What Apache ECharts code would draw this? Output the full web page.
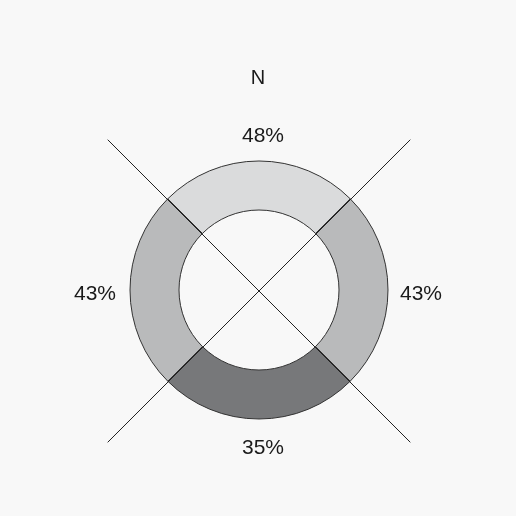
<!DOCTYPE html>
<html lang="en">
<head>
    <meta charset="UTF-8">
    <title>N</title>
    <script src="https://cdn.jsdelivr.net/npm/echarts@6/dist/echarts.min.js"></script>
    <style>
        html, body { margin: 0; padding: 0; background: #f8f8f8; }
        #main { width: 516px; height: 516px; }
    </style>
</head>
<body>
<div id="main"></div>
<script type="text/javascript">
    // 数据
    var directions = ['top', 'right', 'bottom', 'left'];
    var shares = [48, 43, 35, 43];
    var sliceValues = [1, 1, 1, 1];
    var colors = ['#dadbdc', '#b9babb', '#77787a', '#b9babb'];
    var labelOffsets = [[5, 8], [-1, 2], [5, -8], [1, 2]];

    var center = [259, 290];
    var labelCenter = [258, 292];
    var font = 'Liberation Sans, Arial, sans-serif';

    var myChart = echarts.init(document.getElementById('main'));

    var option = {
        backgroundColor: '#f8f8f8',
        animation: false,
        title: {
            text: 'N',
            left: 'center',
            top: 63,
            textStyle: { fontFamily: font, fontWeight: 'normal', fontSize: 20, color: '#1a1a1a' }
        },
        polar: { center: [259, 291], radius: 214 },
        angleAxis: {
            type: 'value', min: 0, max: 360, interval: 90, startAngle: 45,
            axisLine: { show: false }, axisTick: { show: false }, axisLabel: { show: false },
            splitLine: { show: true, lineStyle: { color: '#222', width: 1 } },
            z: 10
        },
        radiusAxis: {
            type: 'value', min: 0, max: 1,
            axisLine: { show: false }, axisTick: { show: false }, axisLabel: { show: false },
            splitLine: { show: false }
        },
        series: [
            {
                type: 'pie',
                center: center,
                radius: [80, 129],
                startAngle: 135,
                clockwise: true,
                silent: true,
                label: { show: false },
                labelLine: { show: false },
                itemStyle: { borderColor: '#333', borderWidth: 1 },
                data: directions.map(function (d, i) {
                    return { name: d, value: sliceValues[i], itemStyle: { color: colors[i] } };
                })
            },
            {
                // 标签环
                type: 'pie',
                center: labelCenter,
                radius: [153, 169],
                startAngle: 135,
                silent: true,
                labelLine: { show: false },
                itemStyle: { color: 'transparent' },
                label: {
                    show: true,
                    position: 'inside',
                    fontFamily: font,
                    fontSize: 21,
                    color: '#1a1a1a',
                    formatter: function (p) { return shares[p.dataIndex] + '%'; }
                },
                data: directions.map(function (d, i) {
                    return { name: d, value: sliceValues[i], label: { offset: labelOffsets[i] } };
                })
            }
        ]
    };

    myChart.setOption(option);
</script>
</body>
</html>
